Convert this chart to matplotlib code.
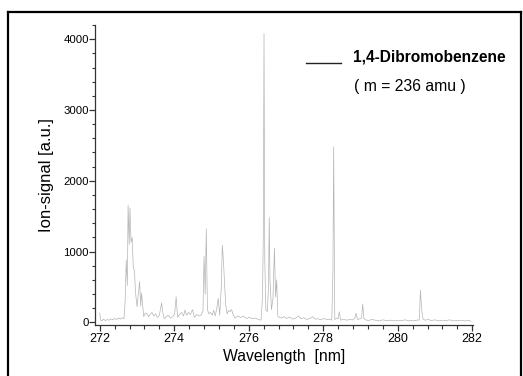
import matplotlib
matplotlib.use("Agg")
import matplotlib.pyplot as plt
from matplotlib.ticker import MultipleLocator
from matplotlib.lines import Line2D

plt.rcParams['font.family'] = ['Liberation Sans', 'DejaVu Sans']

# spectrum (wavelength in nm, ion signal in a.u.)
wavelength = [
    272.00, 272.02, 272.05, 272.10, 272.15, 272.20, 272.25, 272.30, 272.35, 272.40,
    272.45, 272.50, 272.55, 272.60, 272.65, 272.68, 272.71, 272.74, 272.76, 272.79,
    272.81, 272.84, 272.87, 272.90, 272.93, 272.96, 273.00, 273.04, 273.07, 273.10,
    273.12, 273.15, 273.18, 273.22, 273.27, 273.31, 273.35, 273.40, 273.45, 273.50,
    273.55, 273.60, 273.66, 273.69, 273.73, 273.78, 273.84, 273.90, 273.96, 274.01,
    274.05, 274.09, 274.14, 274.20, 274.25, 274.29, 274.33, 274.38, 274.43, 274.49,
    274.54, 274.60, 274.66, 274.72, 274.77, 274.80, 274.83, 274.86, 274.89, 274.93,
    274.97, 275.02, 275.06, 275.10, 275.14, 275.18, 275.22, 275.26, 275.29, 275.32,
    275.35, 275.38, 275.42, 275.46, 275.50, 275.54, 275.58, 275.63, 275.70, 275.78,
    275.86, 275.94, 276.02, 276.10, 276.18, 276.26, 276.33, 276.37, 276.39, 276.41,
    276.43, 276.46, 276.50, 276.53, 276.55, 276.57, 276.61, 276.65, 276.69, 276.72,
    276.75, 276.78, 276.82, 276.88, 276.95, 277.02, 277.10, 277.18, 277.26, 277.34,
    277.40, 277.48, 277.56, 277.64, 277.72, 277.78, 277.86, 277.94, 278.02, 278.10,
    278.18, 278.23, 278.26, 278.28, 278.31, 278.36, 278.40, 278.43, 278.47, 278.55,
    278.63, 278.71, 278.79, 278.85, 278.88, 278.92, 278.98, 279.03, 279.06, 279.09,
    279.14, 279.22, 279.30, 279.40, 279.50, 279.60, 279.70, 279.80, 279.90, 280.00,
    280.10, 280.20, 280.30, 280.40, 280.48, 280.55, 280.58, 280.61, 280.64, 280.68,
    280.74, 280.82, 280.90, 281.00, 281.10, 281.20, 281.30, 281.40, 281.50, 281.60,
    281.70, 281.80, 281.90, 281.97,
]
signal = [
    130, 35, 20, 45, 25, 40, 30, 50, 35, 55,
    40, 60, 45, 65, 50, 300, 880, 520, 1655, 1100,
    1615, 1130, 1200, 760, 740, 420, 220, 420, 575, 230,
    410, 260, 80, 130, 120, 80, 110, 140, 90, 120,
    70, 100, 275, 150, 50, 80, 100, 60, 80, 120,
    360, 70, 110, 140, 90, 175, 100, 140, 110, 180,
    70, 110, 90, 100, 160, 930, 400, 1320, 180, 120,
    140, 100, 170, 90, 190, 340, 100, 480, 1090, 870,
    550, 250, 120, 170, 150, 180, 110, 60, 90, 70,
    85, 55, 70, 50, 60, 40, 30, 360, 1200, 4080,
    900, 180, 150, 500, 1480, 600, 180, 330, 1050, 360,
    600, 90, 70, 60, 80, 55, 75, 45, 60, 90,
    50, 65, 40, 55, 80, 45, 50, 35, 55, 40,
    45, 30, 700, 2480, 40, 60, 50, 150, 30, 45,
    30, 40, 35, 60, 130, 40, 50, 60, 260, 55,
    35, 25, 40, 30, 20, 35, 25, 30, 20, 30,
    25, 35, 20, 30, 25, 35, 30, 455, 190, 45,
    30, 40, 25, 35, 20, 30, 25, 35, 20, 25,
    30, 20, 25, 15,
]

xmajor = [272, 274, 276, 278, 280, 282]
ymajor = [0, 1000, 2000, 3000, 4000]

fig = plt.figure(figsize=(5.23, 3.76), dpi=100)

# outer frame of the scanned figure
fig.add_artist(Line2D([0.0145, 0.0145], [0.0, 0.968], color='black', lw=1.6, transform=fig.transFigure))
fig.add_artist(Line2D([0.0145, 0.996], [0.968, 0.968], color='black', lw=1.6, transform=fig.transFigure))
fig.add_artist(Line2D([0.996, 0.996], [0.0, 0.968], color='black', lw=1.6, transform=fig.transFigure))

ax = fig.add_axes([0.1826, 0.1356, 0.7224, 0.798])
ax.plot(wavelength, signal, color='#b4b4b4', lw=0.5)

ax.set_xlim(271.885, 282.03)
ax.set_ylim(-38, 4202)
ax.set_xticks(xmajor)
ax.set_yticks(ymajor)
ax.xaxis.set_minor_locator(MultipleLocator(0.4))
ax.yaxis.set_minor_locator(MultipleLocator(200))

for side in ['top', 'right']:
    ax.spines[side].set_visible(False)
for side in ['left', 'bottom']:
    ax.spines[side].set_linewidth(0.9)
    ax.spines[side].set_color('#333333')

ax.tick_params(axis='x', which='major', length=4, width=0.9, labelsize=9, pad=1.5, color='#333333')
ax.tick_params(axis='x', which='minor', length=3, width=0.8, color='#333333')
ax.tick_params(axis='y', which='major', length=4, width=0.9, labelsize=8.2, pad=0.8, color='#333333')
ax.tick_params(axis='y', which='minor', length=2.5, width=0.8, color='#333333')

ax.set_xlabel('Wavelength  [nm]', fontsize=11.3, labelpad=3)
ax.set_ylabel('Ion-signal [a.u.]', fontsize=12, labelpad=7)

# legend drawn by hand like the original
fig.add_artist(Line2D([306 / 523, 341 / 523], [1 - 62.7 / 376, 1 - 62.7 / 376],
                      color='#222222', lw=1.0, transform=fig.transFigure))
fig.text(353 / 523, 1 - 57.5 / 376, '1,4-Dibromobenzene', fontsize=11.2,
         fontweight='bold', va='center', ha='left')
fig.text(354 / 523, 1 - 86 / 376, '( m = 236 amu )', fontsize=11.3,
         va='center', ha='left')

fig.savefig('out.png', dpi=100)
